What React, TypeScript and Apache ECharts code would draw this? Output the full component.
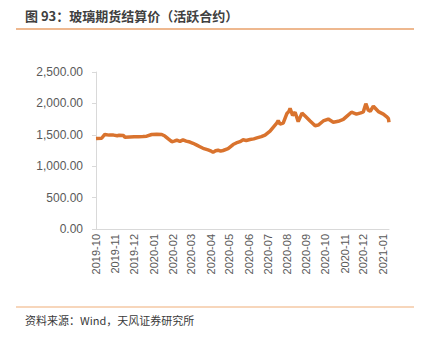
import React, { useEffect, useRef } from "react";
import * as echarts from "echarts";

const startDate = "2019-10-01";
const endDate = "2021-01-11";

const pointDates = [
  "2019-10-01", "2019-10-10", "2019-10-15", "2019-10-22", "2019-10-29", "2019-11-04", "2019-11-07", "2019-11-14",
  "2019-11-16", "2019-11-24", "2019-12-01", "2019-12-08", "2019-12-15", "2019-12-21", "2019-12-29",
  "2020-01-06", "2020-01-14", "2020-01-19", "2020-01-25", "2020-01-30", "2020-02-03", "2020-02-07",
  "2020-02-12", "2020-02-17", "2020-02-22", "2020-02-28", "2020-03-04", "2020-03-10", "2020-03-15",
  "2020-03-20", "2020-03-28", "2020-04-02", "2020-04-05", "2020-04-09", "2020-04-13", "2020-04-17", "2020-04-21",
  "2020-04-29", "2020-05-07", "2020-05-12", "2020-05-18", "2020-05-23", "2020-05-28", "2020-06-03", "2020-06-09",
  "2020-06-14", "2020-06-21", "2020-06-27", "2020-07-05", "2020-07-10", "2020-07-16", "2020-07-18",
  "2020-07-21", "2020-07-26", "2020-08-01", "2020-08-04", "2020-08-06", "2020-08-10", "2020-08-14",
  "2020-08-19", "2020-08-25", "2020-08-30", "2020-09-07", "2020-09-15", "2020-09-20", "2020-09-28",
  "2020-10-06", "2020-10-14", "2020-10-22", "2020-10-30", "2020-11-04", "2020-11-12", "2020-11-20",
  "2020-11-27", "2020-12-01", "2020-12-05", "2020-12-09", "2020-12-12", "2020-12-17", "2020-12-25",
  "2021-01-02", "2021-01-07", "2021-01-10", "2021-01-11",
];

const pointValues = [
  1440, 1445, 1505, 1495, 1495, 1485, 1492, 1490,
  1460, 1465, 1468, 1470, 1472, 1478, 1505,
  1510, 1505, 1480, 1430, 1390, 1400, 1415,
  1395, 1420, 1400, 1385, 1365, 1335, 1310,
  1285, 1260, 1240, 1220, 1245, 1255, 1240, 1250,
  1280, 1345, 1370, 1390, 1420, 1410, 1425, 1435,
  1450, 1470, 1495, 1560, 1620, 1690, 1725,
  1670, 1685, 1840, 1870, 1920, 1810, 1860,
  1710, 1845, 1800, 1720, 1645, 1655, 1720,
  1750, 1700, 1715, 1745, 1790, 1860, 1830,
  1850, 1865, 1995, 1890, 1875, 1955, 1870,
  1830, 1790, 1760, 1700,
];

const yTickMin = 0;
const yTickMax = 2500;
const yTickInterval = 500;

const titleText = "图 93：玻璃期货结算价（活跃合约）";
const sourceText = "资料来源：Wind，天风证券研究所";

function buildDays(start: string, end: string): string[] {
  const out: string[] = [];
  const d = new Date(start + "T00:00:00Z");
  const e = new Date(end + "T00:00:00Z");
  while (d.getTime() <= e.getTime()) {
    out.push(d.toISOString().slice(0, 10));
    d.setUTCDate(d.getUTCDate() + 1);
  }
  return out;
}

export default function App() {
  const ref = useRef<HTMLDivElement>(null);

  useEffect(() => {
    if (!ref.current) return;
    const chart = echarts.init(ref.current, undefined, { renderer: "svg" });
    const days = buildDays(startDate, endDate);
    const seriesData = pointDates.map((d, i) => [d, pointValues[i]]);
    const font = "'Liberation Sans', Arial, sans-serif";

    chart.setOption({
      animation: false,
      grid: { left: 96, right: 33, top: 72, bottom: 122, containLabel: false },
      graphic: [
        {
          type: "text",
          left: 25,
          top: 9,
          style: {
            text: titleText,
            font: "bold 13px 'Noto Sans CJK SC', sans-serif",
            fill: "#404040",
          },
        },
        {
          type: "line",
          shape: { x1: 16, y1: 29, x2: 416, y2: 29 },
          style: { stroke: "#E9A06A", lineWidth: 1.5 },
        },
        {
          type: "line",
          shape: { x1: 16, y1: 307, x2: 416, y2: 307 },
          style: { stroke: "#F5C9A5", lineWidth: 1.5 },
        },
        {
          type: "text",
          left: 25,
          top: 314,
          style: {
            text: sourceText,
            font: "11px 'Noto Sans CJK SC', sans-serif",
            fill: "#3a3a3a",
          },
        },
      ],
      xAxis: {
        type: "category",
        data: days,
        boundaryGap: false,
        axisLine: { show: true, lineStyle: { color: "#D9D9D9", width: 1 } },
        axisTick: { show: false },
        splitLine: { show: false },
        axisLabel: {
          rotate: 90,
          interval: (_i: number, v: string) => v.slice(8, 10) === "01",
          formatter: (v: string) => v.slice(0, 7),
          color: "#595959",
          fontSize: 11,
          fontFamily: font,
          margin: 5,
        },
      },
      yAxis: {
        type: "value",
        min: yTickMin,
        max: yTickMax,
        interval: yTickInterval,
        axisLine: { show: true, lineStyle: { color: "#D9D9D9", width: 1 } },
        axisTick: { show: true, length: 4, lineStyle: { color: "#D9D9D9" } },
        splitLine: { show: false },
        axisLabel: {
          color: "#595959",
          fontSize: 12,
          fontFamily: font,
          margin: 13,
          formatter: (v: number) =>
            v.toLocaleString("en-US", { minimumFractionDigits: 2, maximumFractionDigits: 2 }),
        },
      },
      series: [
        {
          type: "line",
          data: seriesData,
          showSymbol: false,
          symbol: "none",
          lineStyle: { color: "#D9732E", width: 3.5 },
          itemStyle: { color: "#D9732E" },
        },
      ],
    });

    return () => chart.dispose();
  }, []);

  return <div ref={ref} style={{ width: 422, height: 351, margin: -8 }} />;
}
